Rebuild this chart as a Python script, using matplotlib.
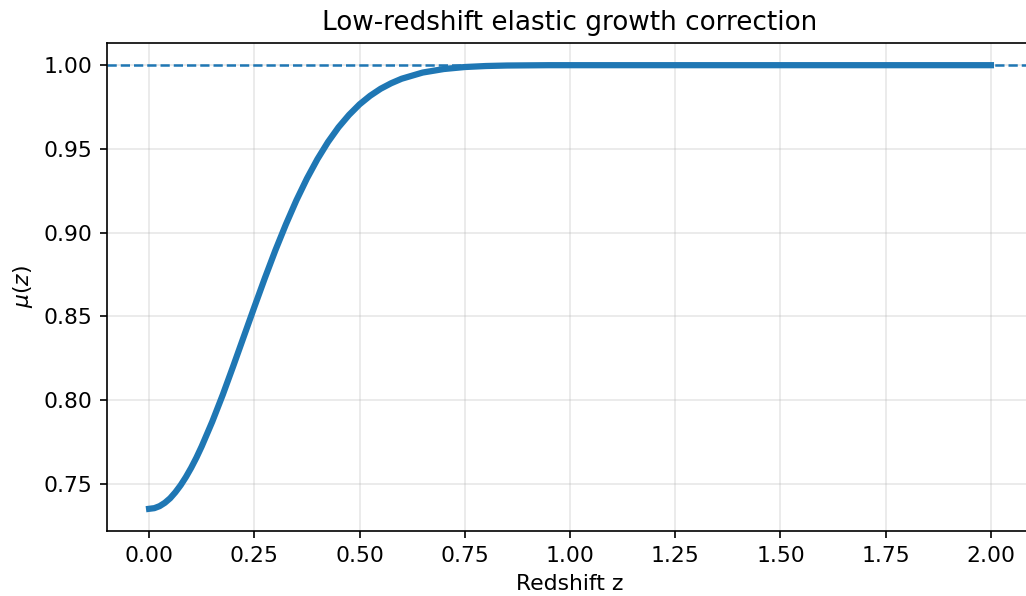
import numpy as np
import matplotlib
matplotlib.use("Agg")
import matplotlib.pyplot as plt

# values
z = [0.0000, 0.0125, 0.0250, 0.0375, 0.0500, 0.0625, 0.0750, 0.0875, 0.1000, 0.1125,
     0.125, 0.150, 0.175, 0.200, 0.225,
     0.250, 0.275, 0.300, 0.325, 0.350, 0.375, 0.400, 0.425, 0.450, 0.475,
     0.500, 0.525, 0.550, 0.575, 0.600, 0.650, 0.700, 0.750, 0.800, 0.850,
     0.900, 0.950, 1.000, 1.250, 1.500, 1.750, 2.000]
mu = [0.7350, 0.7354, 0.7366, 0.7386, 0.7413, 0.7449, 0.7491, 0.7540, 0.7595, 0.7656,
      0.7723, 0.7870, 0.8031, 0.8203, 0.8379,
      0.8555, 0.8728, 0.8894, 0.9049, 0.9193, 0.9323, 0.9439, 0.9541, 0.9629, 0.9703,
      0.9766, 0.9817, 0.9859, 0.9892, 0.9919, 0.9956, 0.9977, 0.9989, 0.9995, 0.9998,
      0.9999, 1.0000, 1.0000, 1.0000, 1.0000, 1.0000, 1.0000]
mu_ref = 1.0

plt.rcParams["font.size"] = 10.5

W, H, DPI = 1026, 596, 150
fig = plt.figure(figsize=(W/DPI, H/DPI), dpi=DPI)
ax = fig.add_axes([107/W, (H-531)/H, 926/W, 488/H])

ax.plot(z, mu, color="#1f77b4", lw=3)
ax.axhline(mu_ref, color="#1f77b4", ls="--", lw=1.2)

ax.set_title("Low-redshift elastic growth correction", fontsize=12.6)
ax.set_xlabel("Redshift z")
ax.set_ylabel(r"$\mu(z)$")
ax.grid(True, alpha=0.3)
ax.set_xticks(np.arange(0, 2.01, 0.25))

fig.savefig("out.png", dpi=DPI)
